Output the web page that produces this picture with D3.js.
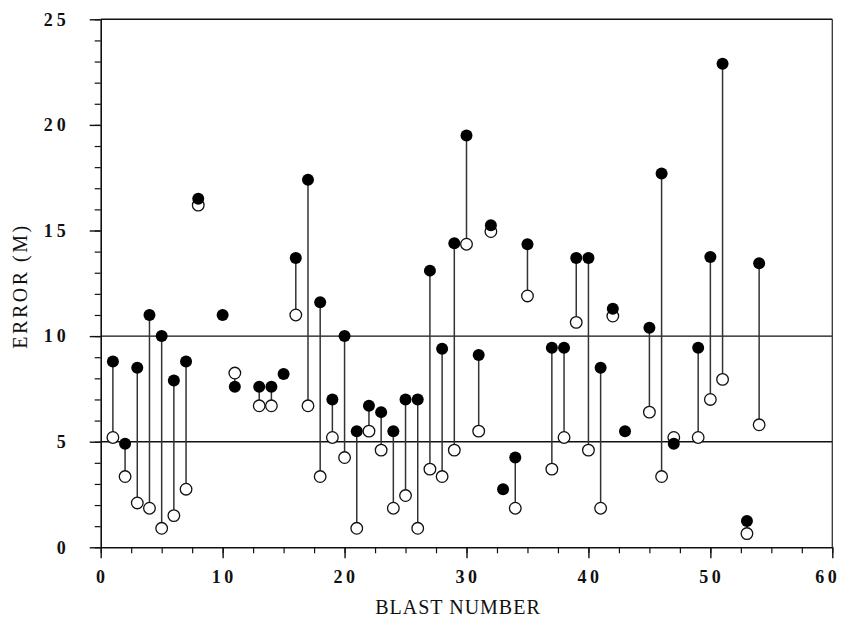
<!DOCTYPE html>
<html>
<head>
<meta charset="utf-8">
<script src="https://cdn.jsdelivr.net/npm/d3@7/dist/d3.min.js"></script>
<style>
  html, body { margin: 0; padding: 0; background: #fff; }
  svg { display: block; }
</style>
</head>
<body>
<svg id="chart" width="845" height="618"></svg>
<script>
// ---- data ----
const blastNumbers = [1,2,3,4,5,6,7,8,10,11,13,14,15,16,17,18,19,20,21,22,23,24,25,26,27,28,29,30,31,32,33,34,35,37,38,39,40,41,42,43,45,46,47,49,50,51,53,54];
const filledErrors = [8.8,4.9,8.5,11.0,10.0,7.9,8.8,16.5,11.0,7.6,7.6,7.6,8.2,13.7,17.4,11.6,7.0,10.0,5.5,6.7,6.4,5.5,7.0,7.0,13.1,9.4,14.4,19.5,9.1,15.25,2.75,4.25,14.35,9.45,9.45,13.7,13.7,8.5,11.3,5.5,10.4,17.7,4.9,9.45,13.75,22.9,1.25,13.45];
const openErrors = [5.2,3.35,2.1,1.85,0.9,1.5,2.75,16.2,null,8.25,6.7,6.7,null,11.0,6.7,3.35,5.2,4.25,0.9,5.5,4.6,1.85,2.45,0.9,3.7,3.35,4.6,14.35,5.5,14.95,null,1.85,11.9,3.7,5.2,10.65,4.6,1.85,10.95,null,6.4,3.35,5.2,5.2,7.0,7.95,0.65,5.8];
const xTickLabels = [0,10,20,30,40,50,60];
const yTickLabels = [0,5,10,15,20,25];
const referenceLevels = [5,10];
const xTitle = "BLAST NUMBER";
const yTitle = "ERROR (M)";

// ---- layout ----
const plotLeft = 100.7, plotRight = 832.3, plotTop = 19.3, plotBottom = 547.3;
const svg = d3.select("#chart");
const x = d3.scaleLinear().domain([0,60]).range([plotLeft, plotRight]);
const y = d3.scaleLinear().domain([0,25]).range([plotBottom, plotTop]);

const rows = blastNumbers.map((b,i) => ({b, f: filledErrors[i], o: openErrors[i]}));

// reference lines
svg.append("g").selectAll("line").data(referenceLevels).join("line")
  .attr("x1", x(0)).attr("x2", x(60))
  .attr("y1", d => y(d)).attr("y2", d => y(d))
  .attr("stroke", "#111").attr("stroke-width", 1.4);

// frame top and right
svg.append("line").attr("x1", x(0)).attr("x2", x(60)).attr("y1", y(25)).attr("y2", y(25))
  .attr("stroke", "#111").attr("stroke-width", 1.6);
svg.append("line").attr("x1", x(60)).attr("x2", x(60)).attr("y1", y(25)).attr("y2", y(0))
  .attr("stroke", "#333").attr("stroke-width", 1.3);

// axes: minor ticks
svg.append("g").attr("transform", `translate(0,${plotBottom})`)
  .call(d3.axisBottom(x).tickValues(d3.range(0, 60.01, 2.5)).tickSize(6).tickFormat(""))
  .call(g => g.select(".domain").remove())
  .selectAll("line").attr("stroke", "#111").attr("stroke-width", 1.2);
svg.append("g").attr("transform", `translate(${plotLeft},0)`)
  .call(d3.axisLeft(y).tickValues(d3.range(0, 25.01, 1)).tickSize(6).tickFormat(""))
  .call(g => g.select(".domain").remove())
  .selectAll("line").attr("stroke", "#111").attr("stroke-width", 1.2);

// axes: major ticks with labels
const xAxis = svg.append("g").attr("transform", `translate(0,${plotBottom})`)
  .call(d3.axisBottom(x).tickValues(xTickLabels).tickSize(11).tickSizeOuter(0).tickPadding(12));
const yAxis = svg.append("g").attr("transform", `translate(${plotLeft},0)`)
  .call(d3.axisLeft(y).tickValues(yTickLabels).tickSize(11).tickSizeOuter(0).tickPadding(20));
[xAxis, yAxis].forEach(g => {
  g.select(".domain").attr("stroke", "#111").attr("stroke-width", 1.6);
  g.selectAll(".tick line").attr("stroke", "#111").attr("stroke-width", 1.4);
  g.selectAll(".tick text")
    .attr("font-family", "'Liberation Serif', 'DejaVu Serif', serif")
    .attr("font-weight", "bold").attr("font-size", 18)
    .attr("fill", "#111").style("letter-spacing", "4px");
});
xAxis.selectAll(".tick text").style("letter-spacing", "3.5px").attr("dx", d => d === 60 ? -5 : 1);

// titles
svg.append("text").attr("x", 458).attr("y", 614)
  .attr("text-anchor", "middle")
  .attr("font-family", "'Liberation Serif', serif").attr("font-size", 20)
  .style("letter-spacing", "1px").attr("fill", "#111").text(xTitle);
svg.append("text").attr("transform", "translate(27,286) rotate(-90)")
  .attr("text-anchor", "middle")
  .attr("font-family", "'Liberation Serif', serif").attr("font-size", 20)
  .style("letter-spacing", "2.5px").attr("fill", "#111").text(yTitle);

// stems
svg.append("g").selectAll("line").data(rows.filter(d => d.o !== null)).join("line")
  .attr("x1", d => x(d.b)).attr("x2", d => x(d.b))
  .attr("y1", d => y(d.f)).attr("y2", d => y(d.o))
  .attr("stroke", "#333").attr("stroke-width", 1.5);

// open circles
svg.append("g").selectAll("circle").data(rows.filter(d => d.o !== null)).join("circle")
  .attr("cx", d => x(d.b)).attr("cy", d => y(d.o)).attr("r", 5.8)
  .attr("fill", "#fff").attr("stroke", "#111").attr("stroke-width", 1.3);

// filled circles
svg.append("g").selectAll("circle").data(rows).join("circle")
  .attr("cx", d => x(d.b)).attr("cy", d => y(d.f)).attr("r", 6)
  .attr("fill", "#000");
</script>
</body>
</html>
